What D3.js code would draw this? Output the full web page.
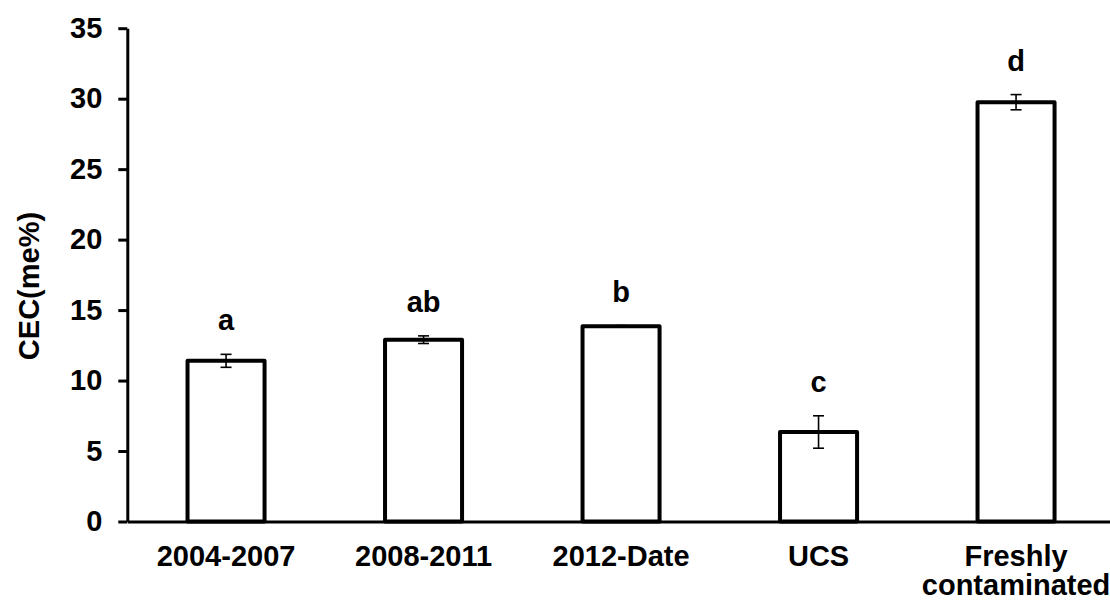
<!DOCTYPE html>
<html>
<head>
<meta charset="utf-8">
<script src="https://cdnjs.cloudflare.com/ajax/libs/d3/7.8.5/d3.min.js"></script>
<style>
    body { margin: 0; background: #fff; }
    svg text { font-family: "Liberation Sans", Arial, sans-serif; font-weight: bold; fill: #000; }
    .axis path, .axis line { stroke: #000; stroke-width: 3; }
</style>
</head>
<body>
<svg id="chart" width="1110" height="601"></svg>
<script>
// chart data
var categories = ["2004-2007", "2008-2011", "2012-Date", "UCS", "Freshly contaminated"];
var means = [11.4, 12.9, 13.85, 6.35, 29.75];
var errors = [0.46, 0.27, 0.05, 1.15, 0.54];
var letters = ["a", "ab", "b", "c", "d"];
var yTicks = [0, 5, 10, 15, 20, 25, 30, 35];

var svg = d3.select("#chart");
var margin = {top: 28.2, left: 127.3, bottom: 521.5, right: 1114.8};
var fontSize = "29px";

var x = d3.scaleBand()
    .domain(categories)
    .range([margin.left, margin.right])
    .paddingInner(0.61)
    .paddingOuter(0.305);

var y = d3.scaleLinear()
    .domain([0, 35])
    .range([margin.bottom, margin.top]);

// Y axis
var yAxis = svg.append("g")
    .attr("class", "axis")
    .attr("transform", "translate(" + margin.left + ",0)")
    .call(d3.axisLeft(y).tickValues(yTicks).tickSize(9).tickSizeOuter(0).tickPadding(16));
yAxis.selectAll("text").style("font-size", fontSize);

svg.append("text")
    .attr("transform", "translate(39,286) rotate(-90)")
    .style("text-anchor", "middle")
    .style("font-size", fontSize)
    .text("CEC(me%)");

// X axis (no tick marks)
var xAxis = svg.append("g")
    .attr("class", "axis")
    .attr("transform", "translate(0," + margin.bottom + ")")
    .call(d3.axisBottom(x).tickSize(0).tickSizeOuter(0).tickFormat(""));

xAxis.selectAll(".tick").append("text")
    .style("font-size", fontSize)
    .style("text-anchor", "middle")
    .attr("y", 44)
    .each(function (d) {
        var words = d === "Freshly contaminated" ? ["Freshly", "contaminated"] : [d];
        var t = d3.select(this);
        words.forEach(function (w, i) {
            t.append("tspan").attr("x", 0).attr("dy", i === 0 ? 0 : 29).text(w);
        });
    });

// Bars
var data = categories.map(function (c, i) {
    return {cat: c, mean: means[i], err: errors[i], letter: letters[i]};
});

svg.selectAll(".bar")
    .data(data)
    .enter()
    .append("rect")
    .attr("class", "bar")
    .attr("x", d => x(d.cat))
    .attr("y", d => y(d.mean))
    .attr("width", x.bandwidth())
    .attr("height", d => y(0) - y(d.mean))
    .style("fill", "#fff")
    .style("stroke", "#000")
    .style("stroke-width", 4)
    .style("stroke-linejoin", "round");

// Error bars
var eb = svg.selectAll(".err")
    .data(data)
    .enter()
    .append("g")
    .attr("class", "err")
    .attr("transform", d => "translate(" + (x(d.cat) + x.bandwidth() / 2) + ",0)")
    .style("stroke", "#000")
    .style("stroke-width", 1.6);

eb.append("line")
    .attr("y1", d => y(d.mean - d.err))
    .attr("y2", d => y(d.mean + d.err));
eb.append("line")
    .attr("x1", -5.5).attr("x2", 5.5)
    .attr("y1", d => y(d.mean + d.err))
    .attr("y2", d => y(d.mean + d.err));
eb.append("line")
    .attr("x1", -5.5).attr("x2", 5.5)
    .attr("y1", d => y(d.mean - d.err))
    .attr("y2", d => y(d.mean - d.err));

// Significance letters
svg.selectAll(".letter")
    .data(data)
    .enter()
    .append("text")
    .attr("class", "letter")
    .attr("x", d => x(d.cat) + x.bandwidth() / 2)
    .attr("y", d => y(d.mean + d.err) - 24)
    .style("text-anchor", "middle")
    .style("font-size", fontSize)
    .text(d => d.letter);
</script>
</body>
</html>
